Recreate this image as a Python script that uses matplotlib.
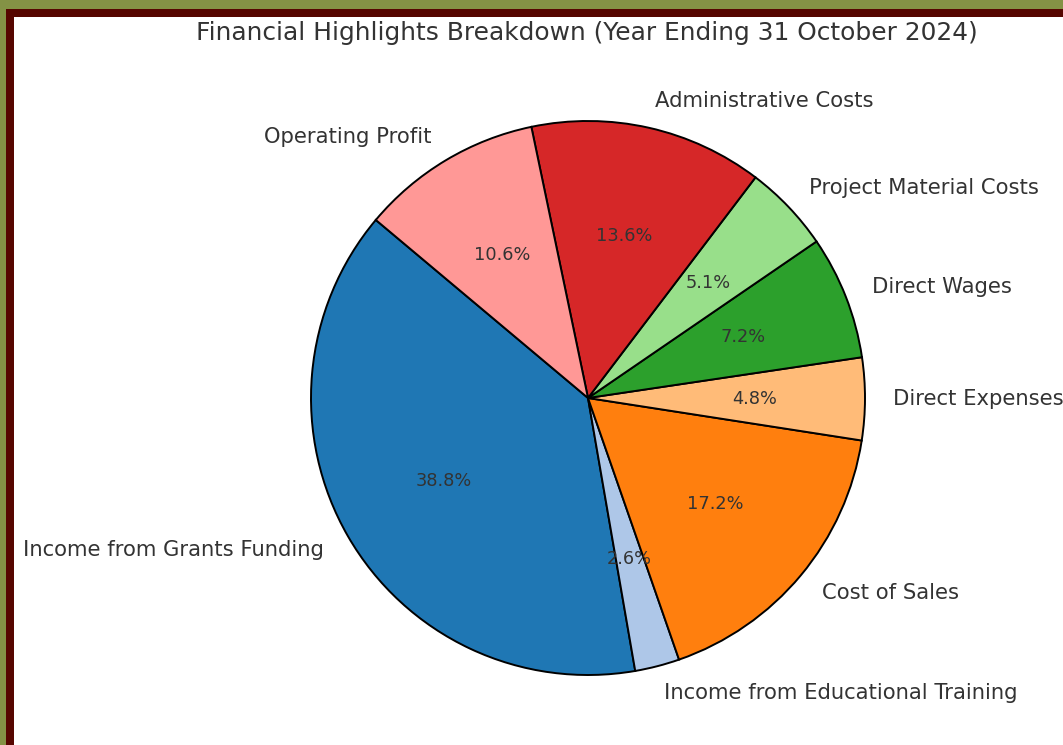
import matplotlib
matplotlib.use("Agg")
import matplotlib.pyplot as plt
from matplotlib.patches import Rectangle

labels = ["Income from Grants Funding", "Income from Educational Training", "Cost of Sales",
          "Direct Expenses", "Direct Wages", "Project Material Costs",
          "Administrative Costs", "Operating Profit"]
values = [38.8, 2.6, 17.2, 4.8, 7.2, 5.1, 13.6, 10.6]
title = "Financial Highlights Breakdown (Year Ending 31 October 2024)"

W, H = 1063, 745
fig = plt.figure(figsize=(W / 100, H / 100), dpi=100)
fig.patch.set_facecolor("white")

R = 277.0
cx, cy = 588.0, 398.0
ax = fig.add_axes([0, 0, 1, 1])
ax.axis("off")

colors = plt.get_cmap("tab20").colors[:len(values)]
wedges, texts, autotexts = ax.pie(values, labels=labels, colors=colors, startangle=140,
                                  autopct="%1.1f%%", radius=1.0, labeldistance=1.1,
                                  pctdistance=0.6,
                                  wedgeprops=dict(edgecolor="black", linewidth=1.4),
                                  textprops=dict(fontsize=15.2, color="#333333"))
for t in autotexts:
    t.set_fontsize(12.8)
    t.set_color("#333333")
ax.set_aspect("auto")
ax.set_xlim(-cx / R, (W - cx) / R)
ax.set_ylim(-(H - cy) / R, cy / R)

fig.text(587 / W, 1 - 33 / H, title, ha="center", va="center", fontsize=17.9, color="#333333")

def prect(x0, y0, w, h, c):
    fig.patches.append(Rectangle((x0 / W, 1 - (y0 + h) / H), w / W, h / H,
                                 transform=fig.transFigure, facecolor=c, edgecolor="none",
                                 zorder=10))

olive = "#849245"
dred = "#560600"
prect(0, 0, W, 9, olive)
prect(0, 0, 6, H, olive)
prect(6, 9, W, 8, dred)
prect(6, 9, 8, H, dred)

fig.savefig("out.png", dpi=100)
